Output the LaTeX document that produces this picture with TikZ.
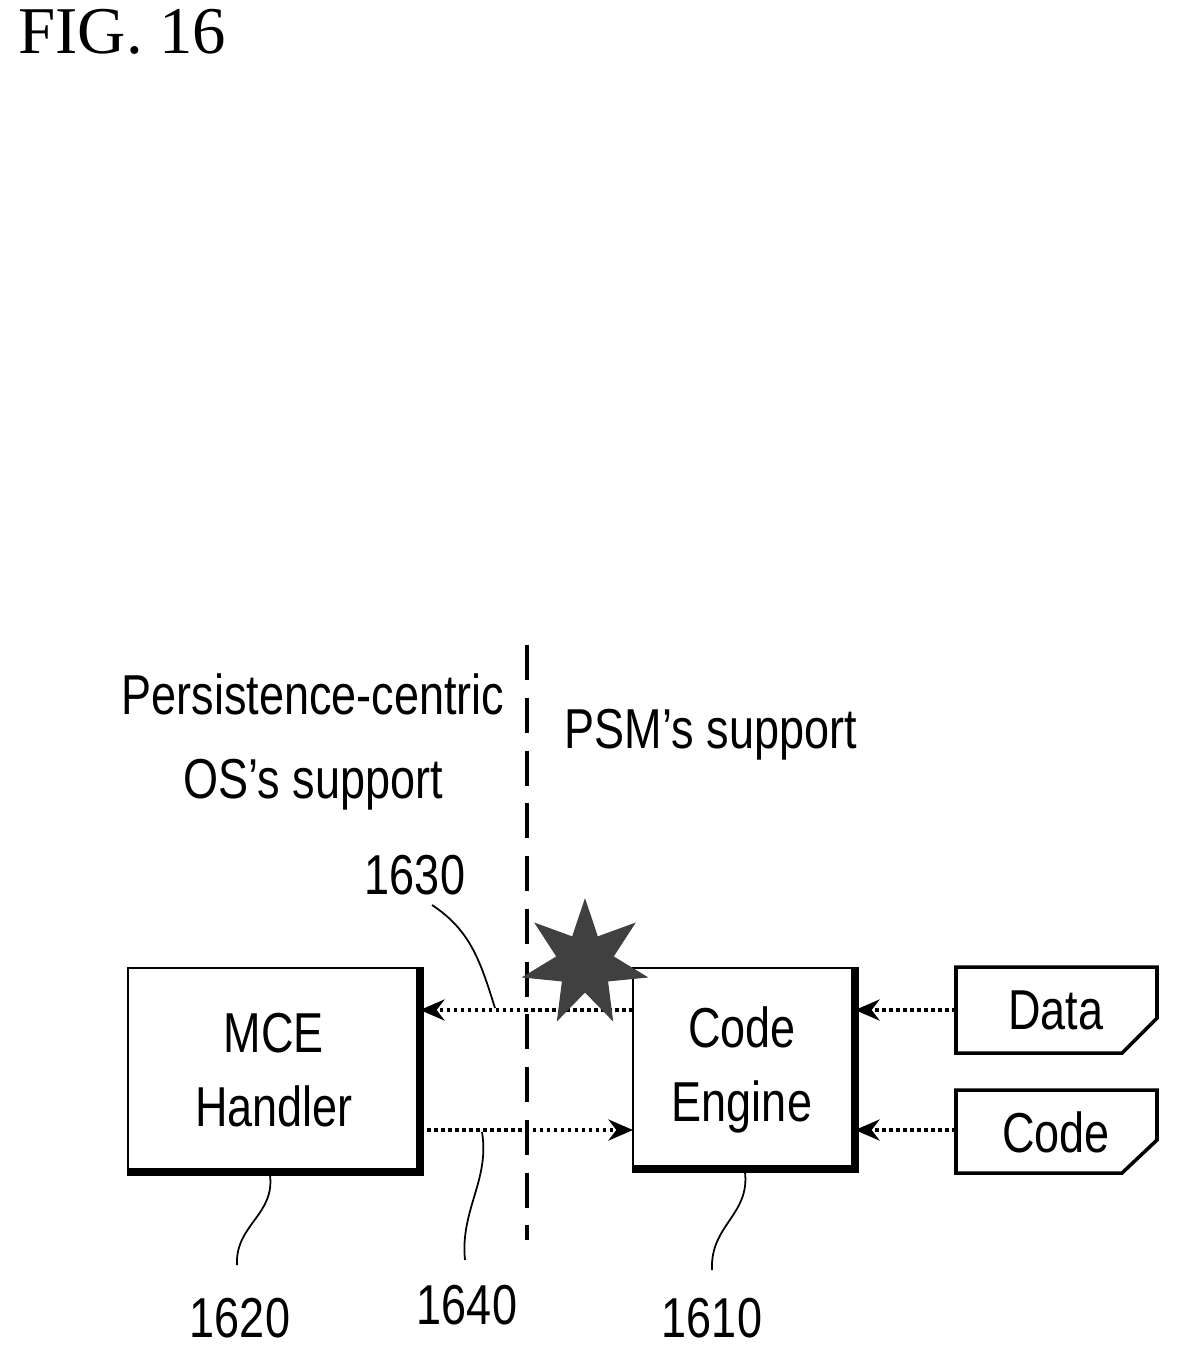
\documentclass[tikz,border=0pt]{standalone}
\usepackage{fontspec}
\setsansfont{Liberation Sans}
\setmainfont{Liberation Serif}
\usetikzlibrary{shapes.geometric,shapes.misc,arrows.meta}
\begin{document}
\begin{tikzpicture}[x=0.01cm,y=-0.01cm,
  lbl/.style={font=\sffamily\fontsize{16}{21}\selectfont, xscale=0.8},
  num/.style={font=\sffamily\fontsize{16}{21}\selectfont, xscale=0.8},
  flow/.style={densely dotted, line width=1pt, -{Stealth[length=7pt,width=6pt]}},
  lead/.style={line width=0.5pt}]
  \useasboundingbox (0,0) rectangle (1177,1359);
  \node[anchor=west, font=\rmfamily\fontsize{19}{23}\selectfont] (fig) at (6,32) {FIG. 16};
  % blocks
  \draw[line width=2.5pt] (131,971) rectangle (420,1172);
  \draw[fill=white, line width=0.8pt] (128,968) rectangle (417,1169);
  \node[lbl, align=center] (mce) at (274,1070) {MCE\\Handler};
  \draw[line width=2.5pt] (636,971) rectangle (855,1169);
  \draw[fill=white, line width=0.8pt] (633,968) rectangle (852,1166);
  \node[lbl, align=center] (eng) at (742,1070) {Code\\Engine};
  \draw[line width=1pt] (956,967) -- (1157,967) -- (1157,1018) -- (1122,1053) -- (956,1053) -- cycle;
  \node[lbl] (data) at (1056,1010) {Data};
  \draw[line width=1pt] (956,1090) -- (1157,1090) -- (1157,1140) -- (1122,1173) -- (956,1173) -- cycle;
  \node[lbl] (code) at (1056,1132) {Code};
  % divider
  \draw[line width=1.2pt, dash pattern=on 10pt off 5pt] (527,645) -- (527,1240);
  \node[lbl, align=center, font=\sffamily\fontsize{16}{24}\selectfont] (os) at (313,742) {Persistence-centric\\OS's support};
  \node[lbl, anchor=west] (psm) at (555,735) {PSM's support};
  % flows
  \draw[flow] (633,1010) -- (420,1010);
  \draw[flow] (420,1130) -- (633,1130);
  \draw[flow] (956,1010) -- (855,1010);
  \draw[flow] (956,1130) -- (855,1130);
  \node[star, star points=7, star point ratio=2.2, fill=black!75, minimum size=105pt*0.352, inner sep=0pt] (err) at (585,963) {};
  % leaders
  \node[num] (n1630) at (415,875) {1630};
  \draw[lead] (432,905) .. controls (470,930) and (480,960) .. (495,1008);
  \node[num] (n1620) at (240,1318) {1620};
  \draw[lead] (270,1175) .. controls (275,1215) and (235,1225) .. (237,1265);
  \node[num] (n1640) at (467,1305) {1640};
  \draw[lead] (482,1132) .. controls (490,1180) and (460,1210) .. (465,1260);
  \node[num] (n1610) at (712,1318) {1610};
  \draw[lead] (745,1172) .. controls (750,1215) and (710,1225) .. (712,1270);
\end{tikzpicture}
\end{document}
